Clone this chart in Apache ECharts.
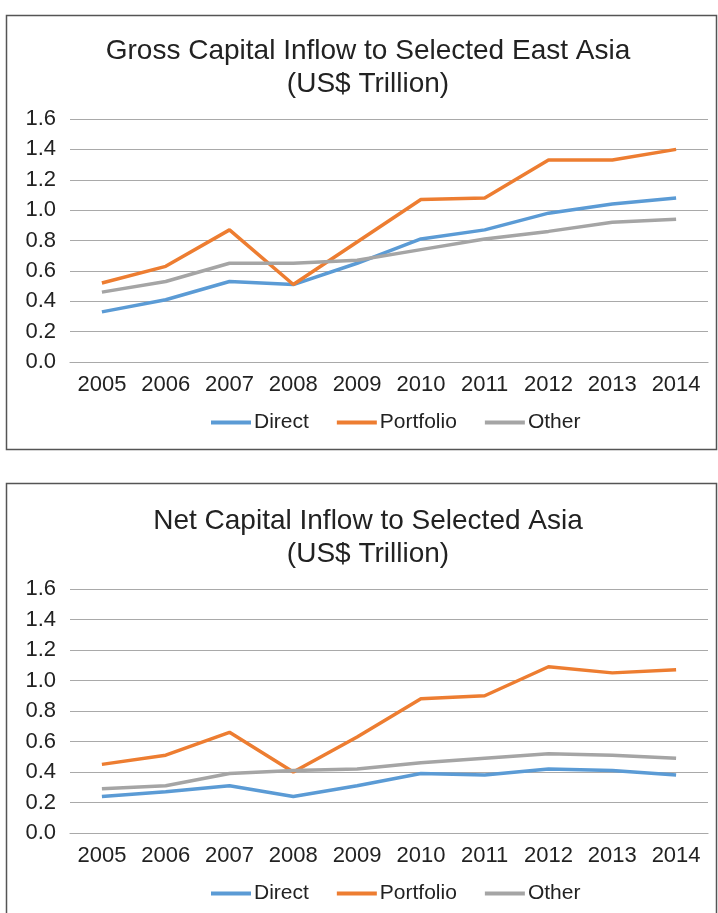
<!doctype html>
<html>
<head>
<meta charset="utf-8">
<title>capital inflow</title>
<script src="https://cdn.jsdelivr.net/npm/echarts@6/dist/echarts.min.js"></script>
<style> html, body {margin: 0; padding: 0; background: #fff;} #main {width: 718px; height: 913px;} </style>
</head>
<body>
<div id="main"></div>
<script>
var years = ['2005', '2006', '2007', '2008', '2009', '2010', '2011', '2012', '2013', '2014'];
var seriesNames = ['Direct', 'Portfolio', 'Other'];

// gross inflow, US$ trillion
var grossDirect    = [0.33, 0.41, 0.53, 0.51, 0.65, 0.81, 0.87, 0.98, 1.04, 1.08];
var grossPortfolio = [0.52, 0.63, 0.87, 0.51, 0.79, 1.07, 1.08, 1.33, 1.33, 1.40];
var grossOther     = [0.46, 0.53, 0.65, 0.65, 0.67, 0.74, 0.81, 0.86, 0.92, 0.94];

// net inflow, US$ trillion
var netDirect    = [0.24, 0.27, 0.31, 0.24, 0.31, 0.39, 0.38, 0.42, 0.41, 0.38];
var netPortfolio = [0.45, 0.51, 0.66, 0.40, 0.63, 0.88, 0.90, 1.09, 1.05, 1.07];
var netOther     = [0.29, 0.31, 0.39, 0.41, 0.42, 0.46, 0.49, 0.52, 0.51, 0.49];

var titles = ['Gross Capital Inflow to Selected East Asia\n(US$ Trillion)', 'Net Capital Inflow to Selected Asia\n(US$ Trillion)'];

var colors = ['#5b9bd5', '#ed7d31', '#a5a5a5'];
var font = 'Liberation Sans';
var textColor = '#222';

var c = echarts.init(document.getElementById('main'));

function yAxis(i) {
    return {
        gridIndex: i, type: 'value', min: 0, max: 1.6, interval: 0.2,
        axisLine: {show: false}, axisTick: {show: false},
        axisLabel: {fontFamily: font, fontSize: 22, color: textColor, margin: 14, formatter: function (v) { return v.toFixed(1); }},
        splitLine: {lineStyle: {color: '#a9a9a9', width: 1.2}}
    };
}
function xAxis(i) {
    return {
        gridIndex: i, type: 'category', data: years, boundaryGap: true,
        axisLine: {show: true, lineStyle: {color: '#a9a9a9', width: 1.2}}, axisTick: {show: false},
        axisLabel: {fontFamily: font, fontSize: 22, color: textColor, margin: 12, interval: 0}
    };
}
function line(name, data, i) {
    return {
        name: name, type: 'line', xAxisIndex: i, yAxisIndex: i, data: data,
        symbol: 'none', animation: false,
        lineStyle: {color: colors[seriesNames.indexOf(name)], width: 3.5},
        itemStyle: {color: colors[seriesNames.indexOf(name)]}
    };
}
function legend(top) {
    return {
        top: top, left: 206, data: seriesNames, icon: 'rect',
        itemWidth: 40, itemHeight: 4, itemGap: 28,
        textStyle: {fontFamily: font, fontSize: 21, color: textColor, padding: [0, 0, 0, -2]}
    };
}

var option = {
    backgroundColor: '#fff',
    title: [
        {text: titles[0], left: 363, textAlign: 'center', top: 30, textStyle: {fontFamily: font, fontSize: 28, fontWeight: 'normal', color: textColor, lineHeight: 33}},
        {text: titles[1], left: 363, textAlign: 'center', top: 500, textStyle: {fontFamily: font, fontSize: 28, fontWeight: 'normal', color: textColor, lineHeight: 33}}
    ],
    legend: [legend(407), legend(878)],
    grid: [
        {left: 70, right: 10, top: 119, height: 243},
        {left: 70, right: 10, top: 589, height: 244}
    ],
    xAxis: [xAxis(0), xAxis(1)],
    yAxis: [yAxis(0), yAxis(1)],
    graphic: [
        {type: 'rect', shape: {x: 6.5, y: 15.5, width: 710, height: 434}, style: {fill: 'none', stroke: '#555', lineWidth: 1.5}},
        {type: 'rect', shape: {x: 6.5, y: 483.5, width: 710, height: 440}, style: {fill: 'none', stroke: '#555', lineWidth: 1.5}}
    ],
    series: [
        line('Direct', grossDirect, 0),
        line('Portfolio', grossPortfolio, 0),
        line('Other', grossOther, 0),
        line('Direct', netDirect, 1),
        line('Portfolio', netPortfolio, 1),
        line('Other', netOther, 1)
    ]
};
c.setOption(option);
</script>
</body>
</html>
